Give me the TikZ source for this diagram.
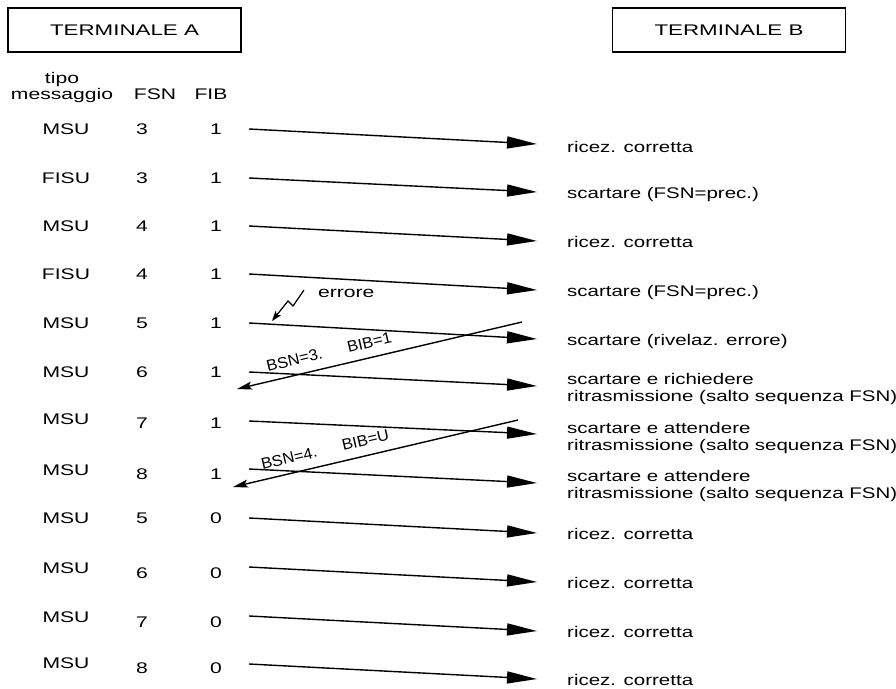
\documentclass[tikz,border=0pt]{standalone}
\usepackage{fontspec}
\setmainfont{Liberation Sans}[FakeStretch=1.37]
\newfontfamily\titlefont{Liberation Sans}[FakeStretch=1.45]
\newfontfamily\notefont{Liberation Sans}[FakeStretch=1.33]
\newfontfamily\slantlabelfont{Liberation Sans}[FakeStretch=1.05]
\usetikzlibrary{arrows.meta}

\begin{document}
\begin{tikzpicture}[x=1pt,y=-1pt,
  txt/.style={font=\fontsize{15.4}{16.5}\selectfont, inner sep=0pt},
  cell/.style={txt, anchor=base},
  lbl/.style={font=\notefont\fontsize{15.4}{16.5}\selectfont, inner sep=0pt,
              anchor=base west, align=left},
  termbox/.style={draw, line width=1.3pt, minimum width=233pt, minimum height=44pt,
                  inner sep=0pt, font=\titlefont\fontsize{15.4}{17}\selectfont},
  msg/.style={line width=1.4pt, -{Triangle[length=30pt,width=12pt]}},
  ack/.style={line width=1.4pt, -{Stealth[length=15pt,width=8pt,inset=3pt]}},
  ackl/.style={font=\slantlabelfont\fontsize{15.6}{16}\selectfont, inner sep=0pt},
  bolt/.style={line width=1.2pt, line join=miter, -{Stealth[length=10pt,width=7pt,inset=2pt]}}]

\useasboundingbox (0,0) rectangle (896,688);

% terminals
\node[termbox] (ta) at (124.5,30) {TERMINALE A};
\node[termbox] (tb) at (729,30) {TERMINALE B};

% column headings
\node[cell] (htipo) at (62,83) {tipo};
\node[cell] (hmsg) at (62,99) {messaggio};
\node[cell] (hfsn) at (155,99) {FSN};
\node[cell] (hfib) at (211,99) {FIB};

% signal units sent from A, with the outcome at B
% (the outcome node is placed by the baseline of its last line)
\foreach \i/\ty/\f/\b/\sy/\ey/\mb/\nb/\lb/\lab in {
  1/MSU/3/1/129/144/134/134/152/{ricez. corretta},
  2/FISU/3/1/178/192/183/183/198/{scartare (FSN=prec.)},
  3/MSU/4/1/226/241/231/231/247/{ricez. corretta},
  4/FISU/4/1/274/290/279/279/296/{scartare (FSN=prec.)},
  5/MSU/5/1/323/339/328/328/345/{scartare (rivelaz. errore)},
  6/MSU/6/1/372/386/377/377/401/{scartare e richiedere\\ritrasmissione (salto sequenza FSN)},
  7/MSU/7/1/421/434/424/428/450/{scartare e attendere\\ritrasmissione (salto sequenza FSN)},
  8/MSU/8/1/469/483/475/479/498/{scartare e attendere\\ritrasmissione (salto sequenza FSN)},
  9/MSU/5/0/518/533/523/523/539/{ricez. corretta},
  10/MSU/6/0/567/582/573/578/588/{ricez. corretta},
  11/MSU/7/0/616/631/622/627/637/{ricez. corretta},
  12/MSU/8/0/664/679/668/673/685/{ricez. corretta}}{
  \node[cell] (ty\i) at (66,\mb) {\ty};
  \node[cell] (fsn\i) at (142,\nb) {\f};
  \node[cell] (fib\i) at (216,\nb) {\b};
  \node[lbl] (out\i) at (567,\lb) {\lab};
  \coordinate (s\i) at (249,\sy);
  \coordinate (e\i) at (537,\ey);
  \draw[msg] (s\i) -- (e\i);
}

% transmission error on the fifth unit
\coordinate (z0) at (304,290);
\coordinate (z1) at (293,306);
\coordinate (z2) at (288,301);
\coordinate (z3) at (272,321);
\draw[bolt] (z0) -- (z1) -- (z2) -- (z3);
\node[txt, anchor=base west] (err) at (318,297) {errore};

% negative acknowledgements from B
\coordinate (n1s) at (522,322);
\coordinate (n1e) at (237,389);
\draw[ack] (n1s) -- (n1e)
  node[ackl, pos=0.665, sloped, anchor=south, yshift=9pt] (nak1) {BSN=3.\hspace{26pt}BIB=1};
\coordinate (n2s) at (518,420);
\coordinate (n2e) at (233,487);
\draw[ack] (n2s) -- (n2e)
  node[ackl, pos=0.665, sloped, anchor=south, yshift=9pt] (nak2) {BSN=4.\hspace{26pt}BIB=U};
\end{tikzpicture}
\end{document}
